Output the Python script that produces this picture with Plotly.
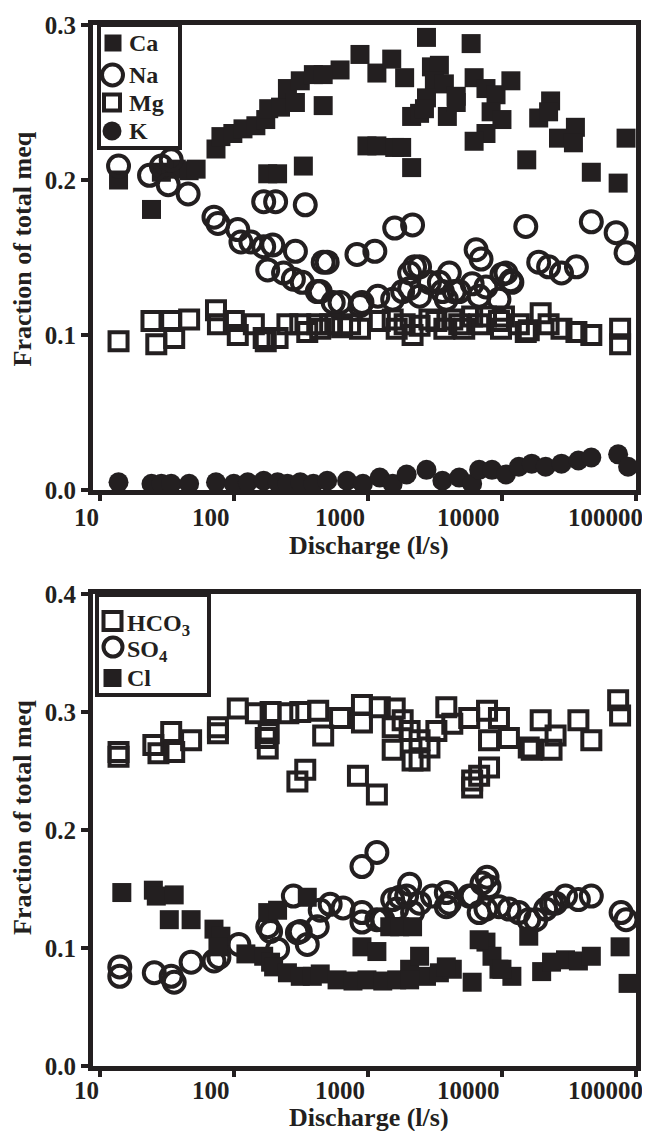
import numpy as np
import plotly.graph_objects as go

INK = '#231f20'
FONT = 'Liberation Serif'

# ---------------- Top panel: cations (fraction of total meq vs discharge, l/s)
ca_q = [13.8, 24.3, 28.8, 37.2, 46.4, 52.3, 73.6, 80.1, 98.3, 117, 146, 173, 182, 223, 251, 313, 392,
        288, 464, 179, 212, 330, 620, 873, 1167, 1506, 1880, 2735, 5890, 2979, 3414, 3133, 3720, 4560,
        2735, 2120, 2430, 3915, 6200, 7600, 9030, 11660, 8300, 10000, 7600, 6200, 984, 1167, 1585, 2120,
        15310, 23070, 18800, 22280, 35320, 26420, 34140, 46420, 73600, 84300, 464, 2642, 4560, 1786]
ca_f = [0.200, 0.181, 0.205, 0.207, 0.206, 0.207, 0.220, 0.228, 0.230, 0.233, 0.235, 0.239, 0.246, 0.247,
        0.259, 0.264, 0.268, 0.250, 0.248, 0.204, 0.204, 0.209, 0.271, 0.281, 0.269, 0.278, 0.266, 0.292,
        0.288, 0.273, 0.274, 0.264, 0.262, 0.254, 0.253, 0.241, 0.243, 0.241, 0.266, 0.259, 0.255, 0.264,
        0.244, 0.239, 0.230, 0.225, 0.222, 0.222, 0.221, 0.208, 0.213, 0.251, 0.240, 0.244, 0.234, 0.227,
        0.224, 0.205, 0.198, 0.227, 0.268, 0.246, 0.250, 0.221]

na_q = [13.8, 23.5, 28.8, 34.1, 32.4, 45.6, 71.1, 76.1, 107, 113, 134, 167, 195, 179, 235, 288, 278, 324,
        419, 464, 620, 829, 1127, 1585, 2154, 903, 1186, 1531, 2048, 2230, 167, 205, 341, 15060, 46420,
        71100, 84300, 497, 6415, 6985, 18800, 22280, 27800, 35940, 2430, 4050, 10000, 11860, 7600, 5995,
        2878, 3594, 1817, 2430, 9500, 6760, 4410, 551, 873, 2048, 3414, 3846, 4800, 10710, 11660, 441]
na_f = [0.209, 0.203, 0.209, 0.213, 0.197, 0.191, 0.176, 0.172, 0.168, 0.160, 0.160, 0.157, 0.158, 0.142,
        0.140, 0.154, 0.136, 0.134, 0.128, 0.147, 0.121, 0.152, 0.154, 0.169, 0.171, 0.121, 0.125, 0.123,
        0.140, 0.144, 0.186, 0.186, 0.184, 0.170, 0.173, 0.166, 0.153, 0.147, 0.155, 0.149, 0.147, 0.144,
        0.140, 0.144, 0.144, 0.140, 0.139, 0.134, 0.131, 0.133, 0.134, 0.128, 0.128, 0.125, 0.123, 0.125,
        0.128, 0.121, 0.119, 0.130, 0.134, 0.123, 0.128, 0.140, 0.135, 0.128]

mg_q = [13.8, 24.3, 26.4, 34.1, 35.9, 46.4, 73.6, 76.1, 100, 107, 141, 167, 212, 251, 313, 353, 419, 173,
        642, 873, 1227, 1531, 2154, 441, 1640, 2430, 3243, 4262, 5995, 7600, 9500, 10350, 13370, 15850,
        19450, 22280, 27800, 35940, 46420, 76100, 76100, 9840, 15060, 4800, 3720, 6760, 5233, 2878, 1880,
        736, 523]
mg_f = [0.096, 0.109, 0.094, 0.109, 0.098, 0.110, 0.116, 0.107, 0.109, 0.100, 0.107, 0.098, 0.098, 0.107,
        0.107, 0.102, 0.107, 0.096, 0.105, 0.104, 0.109, 0.110, 0.100, 0.104, 0.104, 0.106, 0.109, 0.110,
        0.112, 0.112, 0.109, 0.112, 0.107, 0.103, 0.114, 0.107, 0.104, 0.102, 0.100, 0.104, 0.094, 0.104,
        0.102, 0.107, 0.104, 0.107, 0.104, 0.110, 0.107, 0.107, 0.107]

k_q = [13.8, 24.3, 28.8, 34.1, 46.4, 73.6, 100, 127, 167, 212, 251, 313, 392, 497, 699, 918, 1227, 1531,
       1946, 2735, 3594, 4800, 5995, 6760, 8430, 10710, 13370, 16680, 21180, 27800, 37180, 46420, 73600,
       87300]
k_f = [0.005, 0.004, 0.004, 0.004, 0.004, 0.005, 0.004, 0.005, 0.006, 0.005, 0.004, 0.005, 0.004, 0.006,
       0.006, 0.004, 0.008, 0.004, 0.010, 0.013, 0.006, 0.008, 0.004, 0.013, 0.013, 0.010, 0.015, 0.017,
       0.015, 0.017, 0.019, 0.021, 0.023, 0.015]

# ---------------- Bottom panel: anions
hco3_q = [13.8, 13.8, 25.1, 27.4, 34.1, 35.9, 48.0, 76.1, 76.1, 107, 146, 188, 173, 179, 182, 255, 313,
          426, 298, 341, 464, 620, 903, 903, 843, 1167, 1227, 1585, 1531, 1531, 2048, 2154, 1817, 2430,
          2878, 3243, 3846, 4262, 2430, 5700, 7740, 8010, 9500, 11270, 15850, 19450, 23440, 25120, 37180,
          46420, 73600, 76100, 5995, 8010, 5995, 6760, 16680]
hco3_f = [0.266, 0.262, 0.272, 0.265, 0.283, 0.266, 0.276, 0.287, 0.282, 0.303, 0.299, 0.300, 0.278,
          0.269, 0.282, 0.299, 0.300, 0.301, 0.241, 0.251, 0.280, 0.295, 0.306, 0.291, 0.246, 0.230,
          0.304, 0.303, 0.287, 0.268, 0.284, 0.259, 0.293, 0.259, 0.270, 0.284, 0.304, 0.290, 0.276,
          0.295, 0.301, 0.276, 0.295, 0.278, 0.270, 0.293, 0.268, 0.280, 0.293, 0.276, 0.310, 0.297,
          0.242, 0.253, 0.236, 0.246, 0.268]

so4_q = [14.1, 14.1, 25.5, 34.1, 35.9, 48.0, 71.1, 77.4, 109, 179, 188, 278, 313, 353, 212, 441, 419,
         653, 903, 903, 903, 1167, 1291, 1531, 1640, 2048, 2154, 523, 1167, 1727, 2430, 3030, 3846, 4050,
         5995, 7110, 7740, 8010, 7600, 9500, 11270, 13370, 15850, 21180, 23440, 29790, 37180, 46420,
         77400, 84300, 1946, 3846, 5700, 6760, 17870, 25120, 298]
so4_f = [0.084, 0.076, 0.079, 0.076, 0.071, 0.088, 0.089, 0.092, 0.103, 0.118, 0.114, 0.144, 0.114,
         0.103, 0.099, 0.132, 0.118, 0.134, 0.130, 0.122, 0.169, 0.181, 0.124, 0.141, 0.133, 0.154,
         0.130, 0.137, 0.124, 0.143, 0.138, 0.144, 0.147, 0.138, 0.144, 0.155, 0.160, 0.152, 0.133,
         0.135, 0.133, 0.130, 0.124, 0.133, 0.138, 0.144, 0.141, 0.144, 0.130, 0.124, 0.144, 0.135,
         0.144, 0.130, 0.124, 0.138, 0.113]

cl_q = [14.6, 25.1, 26.4, 35.9, 33.0, 48.0, 71.1, 80.1, 76.1, 123, 167, 179, 212, 188, 198, 251, 313,
        385, 353, 441, 589, 774, 984, 1291, 1640, 903, 1167, 1456, 1727, 2048, 2430, 2735, 3414, 4262,
        5995, 7600, 8430, 9500, 11860, 15850, 19780, 23440, 29790, 37180, 46420, 76100, 87300, 2048,
        3846, 6760, 10000, 2154]
cl_f = [0.147, 0.149, 0.144, 0.145, 0.124, 0.124, 0.116, 0.110, 0.101, 0.095, 0.093, 0.130, 0.132,
        0.088, 0.084, 0.079, 0.076, 0.076, 0.143, 0.078, 0.073, 0.072, 0.073, 0.072, 0.073, 0.101,
        0.097, 0.118, 0.118, 0.082, 0.093, 0.076, 0.079, 0.082, 0.071, 0.105, 0.093, 0.082, 0.076,
        0.110, 0.080, 0.088, 0.090, 0.089, 0.093, 0.101, 0.070, 0.073, 0.084, 0.107, 0.082, 0.118]

x_ticks = [10, 100, 1000, 10000, 100000]
x_tick_text = ['10', '100', '1000', '10000', '100000']
x_label_shift = [-13, -23, -28, -33, -31]
y_top_ticks = [0.0, 0.1, 0.2, 0.3]
y_bot_ticks = [0.0, 0.1, 0.2, 0.3, 0.4]

top_legend = ['Ca', 'Na', 'Mg', 'K']
bot_legend = ['HCO<sub>3</sub>', 'SO<sub>4</sub>', 'Cl']

# ---------------- layout geometry (screen pixels; the page body adds an 8 px offset)
OFF = 8
W, H = 650 - OFF, 1131 - OFF
ML, MR, MT, MB = 93 - OFF, 14, 25 - OFF, 65
PW, PH = W - ML - MR, H - MT - MB


def px(x):
    return (x - OFF - ML) / PW


def py(y):
    return (H - MB - (y - OFF)) / PH


top_dom = [py(490), 1.0]
bot_dom = [0.0, py(594)]

fig = go.Figure()


def add(q, f, name, symbol, size, ax, lw=0):
    fig.add_trace(go.Scatter(
        x=q, y=f, mode='markers', name=name, xaxis=ax[0], yaxis=ax[1],
        cliponaxis=False, showlegend=False,
        marker=dict(symbol=symbol, size=size, color=INK, line=dict(width=lw, color=INK))))


add(ca_q, ca_f, 'Ca', 'square', 19, ('x', 'y'))
add(na_q, na_f, 'Na', 'circle-open', 21, ('x', 'y'), 4)
add(mg_q, mg_f, 'Mg', 'square-open', 18, ('x', 'y'), 4)
add(k_q, k_f, 'K', 'circle', 20, ('x', 'y'))
add(hco3_q, hco3_f, 'HCO3', 'square-open', 18, ('x2', 'y2'), 4)
add(so4_q, so4_f, 'SO4', 'circle-open', 21, ('x2', 'y2'), 4)
add(cl_q, cl_f, 'Cl', 'square', 19, ('x2', 'y2'))

xrange = [np.log10(8.9), 5.0]
common_x = dict(type='log', range=xrange, showgrid=False, zeroline=False, showline=True,
                linewidth=5, linecolor=INK, mirror=True, ticks='outside', ticklen=6,
                tickwidth=4, tickcolor=INK, tickvals=x_ticks, showticklabels=False,
                automargin=False)
common_y = dict(showgrid=False, zeroline=False, showline=True, linewidth=5, linecolor=INK,
                mirror=True, ticks='outside', ticklen=7, tickwidth=4, tickcolor=INK,
                automargin=False,
                tickfont=dict(size=25, family=FONT, color=INK, weight='bold'))

fig.update_layout(
    template='none',
    width=W, height=H,
    margin=dict(l=ML, r=MR, t=MT, b=MB, pad=0),
    paper_bgcolor='white', plot_bgcolor='white',
    font=dict(family=FONT, color=INK, size=25, weight='bold'),
    showlegend=False,
    xaxis=dict(common_x, domain=[0, 1], anchor='y'),
    yaxis=dict(common_y, domain=top_dom, anchor='x', range=[0, 0.3], tickvals=y_top_ticks,
               ticktext=[f'{v:.1f}' for v in y_top_ticks]),
    xaxis2=dict(common_x, domain=[0, 1], anchor='y2'),
    yaxis2=dict(common_y, domain=bot_dom, anchor='x2', range=[0, 0.4], tickvals=y_bot_ticks,
                ticktext=[f'{v:.1f}' for v in y_bot_ticks]),
)

ann = []
shapes = []
tfont = dict(size=25, family=FONT, color=INK, weight='bold')
for xa, ya, ys in (('x', 'y', -28), ('x2', 'y2', -24)):
    for v, t, s in zip(x_ticks, x_tick_text, x_label_shift):
        ann.append(dict(x=np.log10(v), xref=xa, y=0, yref=f'{ya} domain', text=t, showarrow=False,
                        xanchor='center', yanchor='middle', xshift=s, yshift=ys, font=tfont))
for xa, ya, ys in (('x', 'y', -55), ('x2', 'y2', -51)):
    ann.append(dict(x=0.5, xref=f'{xa} domain', y=0, yref=f'{ya} domain', text='Discharge (l/s)',
                    showarrow=False, xanchor='center', yanchor='middle', xshift=4, yshift=ys,
                    font=dict(size=26, family=FONT, color=INK, weight='bold')))
for xa, ya, ys in (('x', 'y', 8), ('x2', 'y2', 12)):
    ann.append(dict(x=0, xref=f'{xa} domain', y=0.5, yref=f'{ya} domain', text='Fraction of total meq',
                    showarrow=False, xanchor='center', yanchor='middle', xshift=-71, yshift=ys,
                    textangle=-90, font=dict(size=26, family=FONT, color=INK, weight='bold')))


# ---------------- legend boxes drawn as shapes + text
def box(x0, y0, x1, y1):
    shapes.append(dict(type='rect', xref='paper', yref='paper', x0=px(x0), x1=px(x1),
                       y0=py(y1), y1=py(y0), line=dict(color=INK, width=4), fillcolor='white',
                       layer='above'))


def sym(kind, cx, cy, s, filled):
    shapes.append(dict(type=kind, xref='paper', yref='paper', x0=px(cx - s / 2), x1=px(cx + s / 2),
                       y0=py(cy + s / 2), y1=py(cy - s / 2),
                       line=dict(color=INK, width=0 if filled else 4),
                       fillcolor=INK if filled else 'rgba(0,0,0,0)', layer='above'))


def label(text, x, y):
    ann.append(dict(x=px(x), xref='paper', y=py(y), yref='paper', text=text, showarrow=False,
                    xanchor='left', yanchor='middle', font=dict(size=24, family=FONT, color=INK,
                                                                weight='bold')))


box(99, 25, 180, 148)
sym('rect', 113, 43, 17, True)
sym('circle', 112.5, 75, 21, False)
sym('rect', 112, 102.5, 16, False)
sym('circle', 112, 131, 19, True)
for t, yy in zip(top_legend, [43, 75, 103, 131]):
    label(t, 127, yy)

box(97, 595, 209, 695)
sym('rect', 112.5, 621, 18, False)
sym('circle', 113, 647, 19, False)
sym('rect', 112.5, 678, 18, True)
for t, yy in zip(bot_legend, [625, 651, 678]):
    label(t, 125, yy)

fig.update_layout(annotations=ann, shapes=shapes)

fig.write_html('out.html')
